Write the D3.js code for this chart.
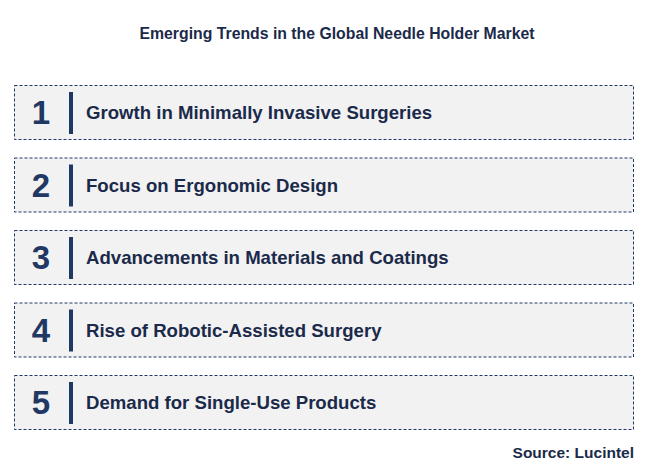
<!DOCTYPE html>
<html><head><meta charset="utf-8">
<script src="https://cdn.jsdelivr.net/npm/d3@7"></script>
<style>body{margin:0;background:#fff}</style></head>
<body><svg id="c" width="657" height="465"></svg>
<script>
const numbers = ["1","2","3","4","5"];
const trends = [
  "Growth in Minimally Invasive Surgeries",
  "Focus on Ergonomic Design",
  "Advancements in Materials and Coatings",
  "Rise of Robotic-Assisted Surgery",
  "Demand for Single-Use Products"
];
const titleText = "Emerging Trends in the Global Needle Holder Market";
const sourceText = "Source: Lucintel";

const svg = d3.select("#c");
const font = "Arial, 'Liberation Sans', sans-serif";
const navy = "#1f3864";
const y = d3.scaleLinear().domain([0, 4]).range([85, 375]);
const boxH = 54;

svg.append("text").attr("x", 337).attr("y", 39).attr("text-anchor", "middle")
  .attr("font-family", font).attr("font-weight", "bold").attr("font-size", 15.8)
  .attr("fill", "#1b2a4a").text(titleText);

const g = svg.selectAll("g.item").data(trends).join("g")
  .attr("transform", (d, i) => `translate(0,${y(i)})`);
g.append("rect").attr("x", 14.5).attr("y", 0.5).attr("width", 619).attr("height", boxH)
  .attr("fill", "#f2f2f2").attr("stroke", navy).attr("stroke-width", 1)
  .attr("stroke-dasharray", "3,2");
g.append("text").attr("x", 41).attr("y", boxH / 2 + 12).attr("text-anchor", "middle")
  .attr("font-family", font).attr("font-weight", "bold").attr("font-size", 33)
  .attr("fill", navy).text((d, i) => numbers[i]);
g.append("rect").attr("x", 69).attr("y", 7).attr("width", 4).attr("height", boxH - 12)
  .attr("fill", navy);
g.append("text").attr("x", 86).attr("y", boxH / 2 + 7)
  .attr("font-family", font).attr("font-weight", "bold").attr("font-size", 18.6)
  .attr("fill", "#1b2a4a").text(d => d);

svg.append("text").attr("x", 634).attr("y", 458).attr("text-anchor", "end")
  .attr("font-family", font).attr("font-weight", "bold").attr("font-size", 15.5)
  .attr("fill", "#1b2a4a").text(sourceText);
</script></body></html>
